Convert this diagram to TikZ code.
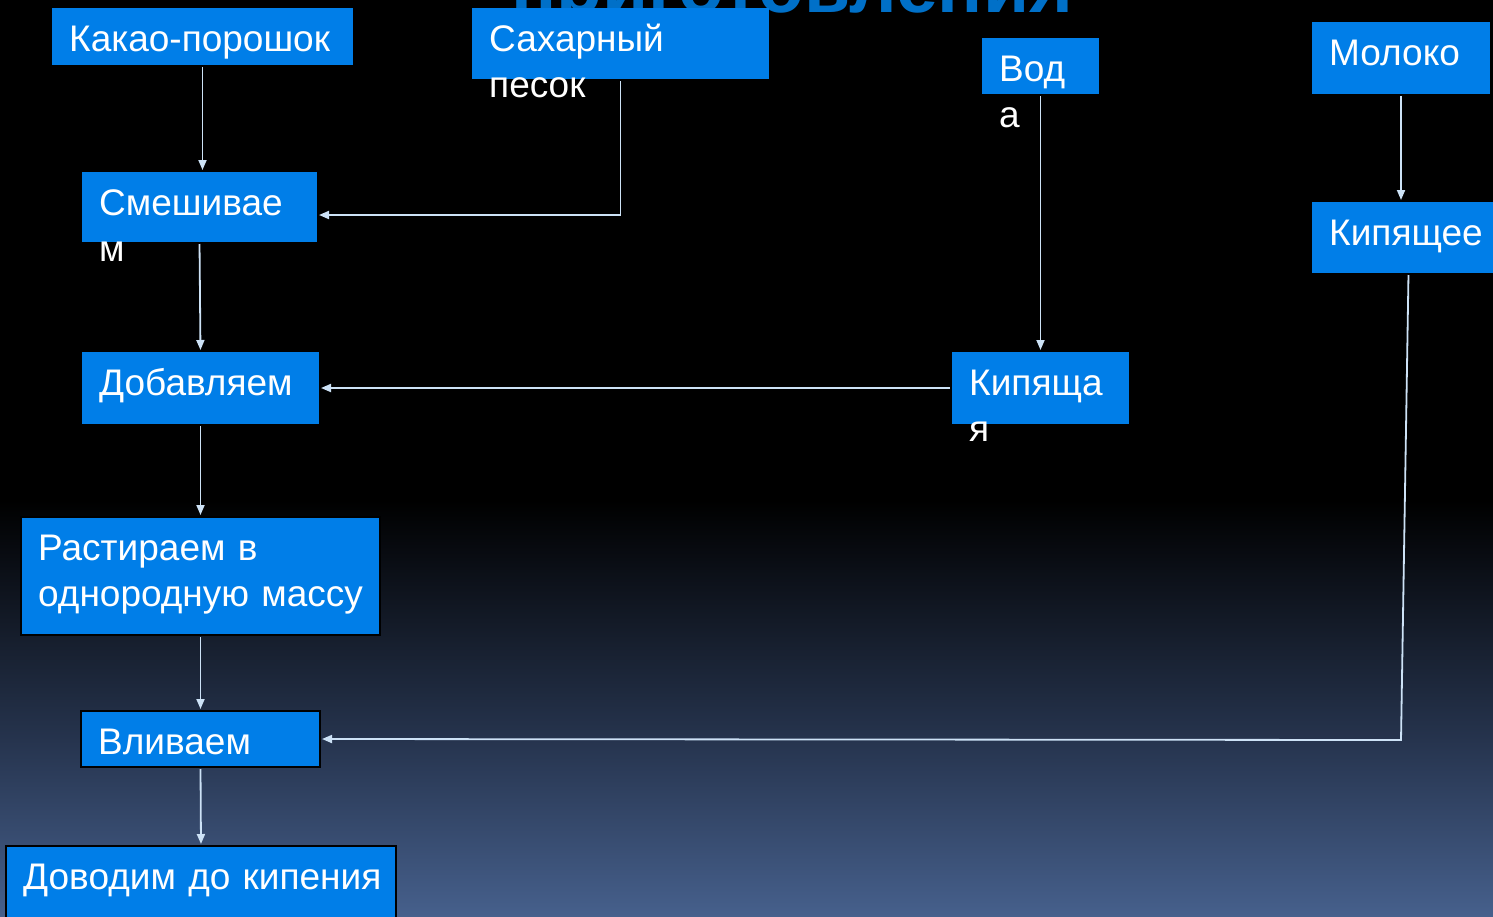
\documentclass[tikz,border=0pt]{standalone}
\usepackage{fontspec}
\setmainfont{Liberation Sans}
\usetikzlibrary{arrows.meta}
\definecolor{boxblue}{RGB}{0,126,232}
\definecolor{titleblue}{RGB}{0,112,200}
\definecolor{linkblue}{RGB}{205,226,246}
\definecolor{bgmid}{RGB}{38,52,78}
\definecolor{bgbottom}{RGB}{70,96,140}

\begin{document}
\begin{tikzpicture}[
    x=1pt, y=-1pt,
    box/.style={rectangle, fill=boxblue, inner sep=0pt, outer sep=0pt},
    framed/.style={box, draw=black, line width=2pt},
    txt/.style={anchor=base west, xshift=17pt, yshift=-43.5pt, inner sep=0pt, text=white, text width=14cm, align=left, font=\fontsize{37}{46}\selectfont},
    arrow/.style={-{Triangle[length=10pt,width=8pt]}, line width=1.8pt, draw=linkblue, shorten <=2pt, shorten >=2pt}
]
% background
\useasboundingbox (0,0) rectangle (1493,916);
\fill[black] (0,0) rectangle (1493,501);
\shade[top color=black, bottom color=bgmid] (0,500) rectangle (1493,741);
\shade[top color=bgmid, bottom color=bgbottom] (0,740) rectangle (1493,916);

\node[anchor=base, inner sep=0pt, text=titleblue, font=\fontsize{75}{80}\selectfont\bfseries] (title) at (792,12) {приготовления};

% ingredients
\node[box, minimum width=301pt, minimum height=57pt] (cocoa) at (202.5,36.5) {};
\node[txt] (cocoa-t) at (cocoa.north west) {Какао-порошок};
\node[box, minimum width=297pt, minimum height=71pt] (sugar) at (620.5,43.5) {};
\node[txt] (sugar-t) at (sugar.north west) {Сахарный\\песок};
\node[box, minimum width=117pt, minimum height=56pt] (water) at (1040.5,66) {};
\node[txt] (water-t) at (water.north west) {Вод\\а};
\node[box, minimum width=178pt, minimum height=72pt] (milk) at (1401,58) {};
\node[txt] (milk-t) at (milk.north west) {Молоко};

% steps
\node[box, minimum width=235pt, minimum height=70pt] (mix) at (199.5,207) {};
\node[txt] (mix-t) at (mix.north west) {Смешивае\\м};
\node[box, minimum width=193pt, minimum height=71pt] (boilmilk) at (1408.5,237.5) {};
\node[txt] (boilmilk-t) at (boilmilk.north west) {Кипящее};
\node[box, minimum width=237pt, minimum height=72pt] (add) at (200.5,388) {};
\node[txt] (add-t) at (add.north west) {Добавляем};
\node[box, minimum width=177pt, minimum height=72pt] (boilwater) at (1040.5,388) {};
\node[txt] (boilwater-t) at (boilwater.north west) {Кипяща\\я};
\node[framed, minimum width=359pt, minimum height=118pt] (grind) at (200.5,576) {};
\node[txt] (grind-t) at (grind.north west) {Растираем в\\однородную массу};
\node[framed, minimum width=239pt, minimum height=56pt] (pour) at (200.5,739) {};
\node[txt] (pour-t) at (pour.north west) {Вливаем};
\node[framed, minimum width=390pt, minimum height=80pt] (boil) at (201,886) {};
\node[txt] (boil-t) at (boil.north west) {Доводим до кипения};

\coordinate (bend) at (1401,740);

\draw[arrow] (cocoa.south) -- (cocoa.south |- mix.north);
\draw[arrow] (sugar.south) |- ([yshift=-8pt]mix.east);
\draw[arrow] (water.south) -- (boilwater.north);
\draw[arrow] (boilwater.west) -- (add.east);
\draw[arrow] (milk.south) -- (milk.south |- boilmilk.north);
\draw[arrow] (boilmilk.south) -- (bend) -- (pour.east);
\draw[arrow] (mix.south) -- (add.north);
\draw[arrow] (add.south) -- (grind.north);
\draw[arrow] (grind.south) -- (pour.north);
\draw[arrow] (pour.south) -- (boil.north);
\end{tikzpicture}
\end{document}
